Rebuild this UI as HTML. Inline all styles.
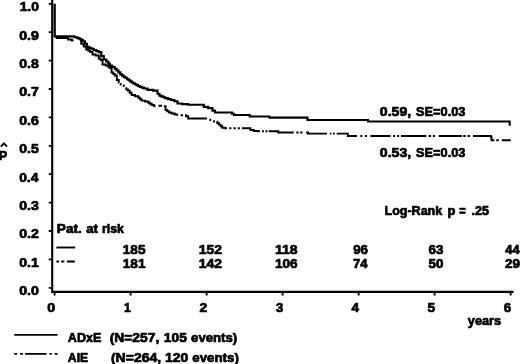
<!DOCTYPE html>
<html><head><meta charset="utf-8">
<style>
html,body{margin:0;padding:0;background:#fff;}
svg{display:block;}
text{font-family:"Liberation Sans",sans-serif;font-weight:bold;font-size:12.8px;fill:#000;stroke:#000;stroke-width:0.7;stroke-linejoin:round;}
</style></head><body>
<svg width="520" height="364" viewBox="0 0 520 364">
<rect width="520" height="364" fill="#fff"/>
<g stroke="#000" stroke-width="2.1" fill="none">
<line x1="52.2" y1="0" x2="52.2" y2="292.8"/>
<line x1="51.2" y1="291.9" x2="513.6" y2="291.9"/>
</g>
<g stroke="#000" stroke-width="1.8" fill="none">
<path d="M48.7 3.80H52M48.7 32.20H52M48.7 60.60H52M48.7 89.00H52M48.7 117.40H52M48.7 145.80H52M48.7 174.20H52M48.7 202.60H52M48.7 231.00H52M48.7 259.40H52M48.7 287.80H52"/>
<path d="M54.6 292V295.6M130.6 292V295.6M206.6 292V295.6M282.6 292V295.6M358.6 292V295.6M434.6 292V295.6M510.6 292V295.6" stroke-width="1.9"/>
</g>
<path fill="none" stroke="#000" stroke-width="2.2" stroke-linejoin="miter" d="M54.7 3.75L54.7 36.4L73 36.4L74.44 36.4L74.44 37.25L75.88 37.25L77.31 37.25L77.31 38.1L78.75 38.1L79.58 38.1L79.58 39.15L80.42 39.15L81.25 39.15L81.25 40.2L82.08 40.2L82.92 40.2L82.92 41.25L83.75 41.25L85 41.25L85 43.75L86.25 43.75L86.88 43.75L86.88 46.9L87.5 46.9L88.75 46.9L88.75 47.83L90 47.83L91.25 47.83L91.25 48.75L92.5 48.75L93.75 48.75L93.75 50L95 50L96.25 50L96.25 51.1L97.5 51.1L98.75 51.1L98.75 52.2L100 52.2L101.25 52.2L101.25 56L102.5 56L103.75 56L103.75 59.5L105 59.5L106.25 59.5L106.25 61.5L107.5 61.5L108.28 61.5L108.28 63.55L109.05 63.55L109.82 63.55L109.82 65.6L110.6 65.6L112.17 65.6L112.17 67L113.75 67L114.69 67L114.69 68.75L115.62 68.75L116.56 68.75L116.56 70.5L117.5 70.5L118.44 70.5L118.44 72.45L119.38 72.45L120.31 72.45L120.31 74.4L121.25 74.4L122.08 74.4L122.08 75.6L122.92 75.6L123.75 75.6L123.75 76.8L124.58 76.8L125.42 76.8L125.42 78L126.25 78L127.03 78L127.03 79.12L127.81 79.12L128.59 79.12L128.59 80.25L129.38 80.25L130.16 80.25L130.16 81.38L130.94 81.38L131.72 81.38L131.72 82.5L132.5 82.5L133.28 82.5L133.28 83.38L134.06 83.38L134.84 83.38L134.84 84.25L135.62 84.25L136.41 84.25L136.41 85.12L137.19 85.12L137.97 85.12L137.97 86L138.75 86L139.79 86L139.79 86.83L140.83 86.83L141.88 86.83L141.88 87.67L142.92 87.67L143.96 87.67L143.96 88.5L145 88.5L147.5 88.5L147.5 89.8L150 89.8L153.12 89.8L153.12 90.6L156.25 90.6L157.5 90.6L157.5 93.75L158.75 93.75L159.38 93.75L159.38 95.6L160 95.6L161.04 95.6L161.04 96.43L162.08 96.43L163.12 96.43L163.12 97.27L164.17 97.27L165.21 97.27L165.21 98.1L166.25 98.1L167.81 98.1L167.81 99.05L169.38 99.05L170.94 99.05L170.94 100L172.5 100L174.38 100L174.38 101.25L176.25 101.25L177.5 101.25L177.5 103.5L178.75 103.5L181.88 103.5L181.88 104.1L185 104.1L188.12 104.1L188.12 104.75L191.25 104.75L202.5 104.75L203.75 104.75L203.75 106.9L205 106.9L208.12 106.9L208.12 108.1L211.25 108.1L212.5 108.1L212.5 110.6L213.75 110.6L215 110.6L215 112.5L216.25 112.5L231 112.5L232 112.5L232 113.75L233 113.75L234 113.75L234 115L235 115L248.5 115L249.75 115L249.75 116.5L251 116.5"/>
<path fill="none" stroke="#000" stroke-width="2.1" stroke-linejoin="miter" d="M251 116.5L269 116.5L269.5 116.5L269.5 117.6L270 117.6L307 117.6L307.5 117.6L307.5 120L308 120L367 120L368 120L368 121.5L369 121.5L509.7 121.5L509.7 125.8"/>
<path fill="none" stroke="#000" stroke-width="1.95" d="M55.7 38L66 38L68 38L68 39.4L70 39.4L71.75 39.4L71.75 40.4L73.5 40.4M80 40.5L81.25 40.5L81.25 43.75L82.5 43.75L83.75 43.75L83.75 46.5L85 46.5L86.25 46.5L86.25 49.4L87.5 49.4L88.44 49.4L88.44 50.65L89.38 50.65L90.31 50.65L90.31 51.9L91.25 51.9L92.5 51.9L92.5 54.4L93.75 54.4L95.62 54.4L95.62 55.5L97.5 55.5L98.75 55.5L98.75 58.5L100 58.5L100.62 58.5L100.62 60L101.25 60L102.5 60L102.5 64.4L103.75 64.4L105.62 64.4L105.62 65.6L107.5 65.6L108.28 65.6L108.28 66.85L109.05 66.85L109.82 66.85L109.82 68.1L110.6 68.1L111.55 68.1L111.55 72.5L112.5 72.5L113.28 72.5L113.28 74L114.05 74L114.82 74L114.82 75.5L115.6 75.5L116.85 75.5L116.85 80L118.1 80L118.75 80L118.75 82.5L119.4 82.5M120 84L120.75 84L120.75 84.6L121.5 84.6M123 85.4L123.75 85.4L123.75 86L124.5 86M125.5 88.1L126.31 88.1L126.31 89.35L127.12 89.35L127.94 89.35L127.94 90.6L128.75 90.6L129.69 90.6L129.69 92.8L130.62 92.8L131.56 92.8L131.56 95L132.5 95L135 95L135 96.25L137.5 96.25L138.33 96.25L138.33 97.7L139.17 97.7L140 97.7L140 99.15L140.83 99.15L141.67 99.15L141.67 100.6L142.5 100.6L145 100.6L145 101.5L147.5 101.5L148.33 101.5L148.33 102.67L149.17 102.67L150 102.67L150 103.83L150.83 103.83L151.67 103.83L151.67 105L152.5 105L154 105L154 106L155.5 106M158.5 105.8L162 105.8M163.8 106.25L164.8 106.25L165.53 106.25L165.53 110L166.25 110L167.19 110L167.19 111.25L168.12 111.25L169.06 111.25L169.06 112.5L170 112.5L171.56 112.5L171.56 113.45L173.12 113.45L174.69 113.45L174.69 114.4L176.25 114.4L177.12 114.4L177.12 114.7L178 114.7M180.6 115.2L183.1 115.2M185 115.2L185.95 115.2L185.95 116.25L186.9 116.25L188.15 116.25L188.15 118.5L189.4 118.5L206.9 118.5M209.4 119.75L210.32 119.75L210.32 119.9L211.25 119.9M213.1 121.1L214.05 121.1L214.05 121.4L215 121.4M216.5 121.7L217.32 121.7L217.32 123.15L218.15 123.15L218.98 123.15L218.98 124.6L219.8 124.6L220.6 124.6L220.6 126.2L221.4 126.2L222.2 126.2L222.2 127.8L223 127.8L225 127.8L225 128.2L227 128.2M229.3 128.2L231.4 128.2M233.5 128.2L235.6 128.2M237.7 128.2L239.9 128.2M242 128.2L249.4 128.2L250.45 128.2L250.45 129.9L251.5 129.9L253.75 129.9L253.75 131L256 131L258 131L258 131.2L260 131.2M262 131.25L263.9 131.25M265.5 131.25L267.5 131.25M268.75 131.25L277.5 131.25L278.25 131.25L278.25 132.5L279 132.5L293.75 132.5M296.25 132.5L298.6 132.5M300.2 132.5L302.5 132.5M306.25 132.5L307.5 132.5L308 132.5L308 133.6L308.5 133.6L327 133.6M329.8 133.6L331.5 133.6M333 133.6L334.8 133.6M336.7 133.6L346.8 133.6L347.8 133.6L347.8 136L348.8 136L357 136M360.3 136L362.3 136M365 136L367 136M370.4 136L390.6 136M393.2 136L395.2 136M397.2 136L399.2 136M401 136L426.25 136M428.75 136L431.1 136M432.9 136L435 136M438.75 136L461.9 136M463.2 136L465.6 136M467.5 136L470 136M473 136L490.4 136L490.95 136L490.95 137.2L491.5 137.2L491.5 140.3L494.4 140.3M496.25 140.3L498.75 140.3M501.9 140.3L510.8 140.3"/>

<path d="M0.8 146.6L3.9 143.3L7 146.6" fill="none" stroke="#000" stroke-width="1.8"/>
<line x1="56.4" y1="247.5" x2="75.2" y2="247.5" stroke="#000" stroke-width="1.9"/>
<path d="M56.4 261.5H59M61.2 261.5H64.3M66.9 261.5H74.9" stroke="#000" stroke-width="1.9" fill="none"/>
<line x1="14.3" y1="334.9" x2="57.6" y2="334.9" stroke="#000" stroke-width="1.9"/>
<path d="M14.3 353.9H17.2M20.1 353.9H23M25.1 353.9H46.6M49.5 353.9H51.8M54.7 353.9H57.6" stroke="#000" stroke-width="1.9" fill="none"/>
<text x="19.68" y="11.10" textLength="19.24" lengthAdjust="spacingAndGlyphs">1.0</text>
<text x="19.19" y="39.50" textLength="19.69" lengthAdjust="spacingAndGlyphs">0.9</text>
<text x="19.19" y="67.90" textLength="19.59" lengthAdjust="spacingAndGlyphs">0.8</text>
<text x="19.19" y="96.30" textLength="19.79" lengthAdjust="spacingAndGlyphs">0.7</text>
<text x="19.19" y="124.70" textLength="19.67" lengthAdjust="spacingAndGlyphs">0.6</text>
<text x="19.19" y="153.10" textLength="19.55" lengthAdjust="spacingAndGlyphs">0.5</text>
<text x="19.20" y="181.50" textLength="19.22" lengthAdjust="spacingAndGlyphs">0.4</text>
<text x="19.19" y="209.90" textLength="19.67" lengthAdjust="spacingAndGlyphs">0.3</text>
<text x="19.19" y="238.30" textLength="19.73" lengthAdjust="spacingAndGlyphs">0.2</text>
<text x="19.19" y="266.70" textLength="19.55" lengthAdjust="spacingAndGlyphs">0.1</text>
<text x="19.19" y="295.10" textLength="19.74" lengthAdjust="spacingAndGlyphs">0.0</text>
<text x="47.28" y="312.40" textLength="7.95" lengthAdjust="spacingAndGlyphs">0</text>
<text x="123.98" y="312.40" textLength="6.81" lengthAdjust="spacingAndGlyphs">1</text>
<text x="199.47" y="312.40" textLength="7.74" lengthAdjust="spacingAndGlyphs">2</text>
<text x="276.05" y="312.40" textLength="7.27" lengthAdjust="spacingAndGlyphs">3</text>
<text x="351.54" y="312.40" textLength="7.58" lengthAdjust="spacingAndGlyphs">4</text>
<text x="427.62" y="312.40" textLength="7.71" lengthAdjust="spacingAndGlyphs">5</text>
<text x="503.86" y="312.40" textLength="7.48" lengthAdjust="spacingAndGlyphs">6</text>
<text x="467.85" y="325.10" textLength="33.32" lengthAdjust="spacingAndGlyphs">years</text>
<text x="379.89" y="115.70" textLength="31.30" lengthAdjust="spacingAndGlyphs">0.59,</text>
<text x="416.08" y="115.70" textLength="49.33" lengthAdjust="spacingAndGlyphs">SE=0.03</text>
<text x="379.89" y="156.90" textLength="31.30" lengthAdjust="spacingAndGlyphs">0.53,</text>
<text x="416.08" y="156.90" textLength="49.33" lengthAdjust="spacingAndGlyphs">SE=0.03</text>
<text x="384.51" y="215.10" textLength="57.73" lengthAdjust="spacingAndGlyphs">Log-Rank</text>
<text x="447.50" y="215.10" textLength="7.88" lengthAdjust="spacingAndGlyphs">p</text>
<text x="459.29" y="215.10" textLength="6.52" lengthAdjust="spacingAndGlyphs">=</text>
<text x="471.40" y="215.10" textLength="17.51" lengthAdjust="spacingAndGlyphs">.25</text>
<text x="56.84" y="233.40" textLength="24.95" lengthAdjust="spacingAndGlyphs">Pat.</text>
<text x="86.16" y="233.40" textLength="11.85" lengthAdjust="spacingAndGlyphs">at</text>
<text x="102.04" y="233.40" textLength="21.90" lengthAdjust="spacingAndGlyphs">risk</text>
<text x="122.80" y="254.00" textLength="22.63" lengthAdjust="spacingAndGlyphs">185</text>
<text x="122.80" y="267.70" textLength="22.63" lengthAdjust="spacingAndGlyphs">181</text>
<text x="198.67" y="254.00" textLength="23.23" lengthAdjust="spacingAndGlyphs">152</text>
<text x="198.67" y="267.70" textLength="23.23" lengthAdjust="spacingAndGlyphs">142</text>
<text x="274.94" y="254.00" textLength="22.67" lengthAdjust="spacingAndGlyphs">118</text>
<text x="274.94" y="267.70" textLength="22.75" lengthAdjust="spacingAndGlyphs">106</text>
<text x="353.19" y="254.00" textLength="14.84" lengthAdjust="spacingAndGlyphs">96</text>
<text x="353.09" y="267.70" textLength="14.53" lengthAdjust="spacingAndGlyphs">74</text>
<text x="428.46" y="254.00" textLength="14.87" lengthAdjust="spacingAndGlyphs">63</text>
<text x="428.54" y="267.70" textLength="14.86" lengthAdjust="spacingAndGlyphs">50</text>
<text x="505.35" y="254.00" textLength="14.36" lengthAdjust="spacingAndGlyphs">44</text>
<text x="505.08" y="267.70" textLength="15.07" lengthAdjust="spacingAndGlyphs">29</text>
<text x="67.79" y="342.10" textLength="33.61" lengthAdjust="spacingAndGlyphs">ADxE</text>
<text x="109.66" y="342.10" textLength="49.67" lengthAdjust="spacingAndGlyphs">(N=257,</text>
<text x="163.88" y="342.10" textLength="23.05" lengthAdjust="spacingAndGlyphs">105</text>
<text x="191.09" y="342.10" textLength="46.12" lengthAdjust="spacingAndGlyphs">events)</text>
<text x="67.79" y="361.60" textLength="20.43" lengthAdjust="spacingAndGlyphs">AIE</text>
<text x="110.90" y="361.60" textLength="50.29" lengthAdjust="spacingAndGlyphs">(N=264,</text>
<text x="165.07" y="361.60" textLength="23.25" lengthAdjust="spacingAndGlyphs">120</text>
<text x="192.33" y="361.60" textLength="46.48" lengthAdjust="spacingAndGlyphs">events)</text>
<text x="-1.30" y="159.90" textLength="8.49" lengthAdjust="spacingAndGlyphs">P</text>
</svg>
</body></html>
